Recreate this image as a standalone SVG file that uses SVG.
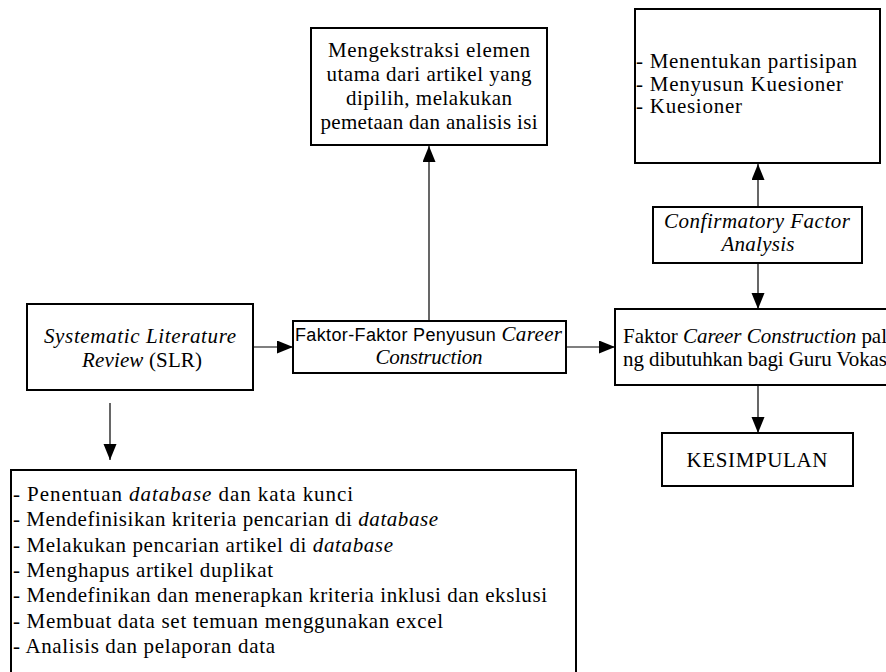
<svg xmlns="http://www.w3.org/2000/svg" width="886" height="672" viewBox="0 0 886 672">
<style>
.box{fill:#fff;stroke:#000;stroke-width:2}
.t{font-family:'Liberation Serif','Times New Roman',serif;font-size:21px;fill:#000}
.s{font-family:'Liberation Sans',Arial,sans-serif;font-size:18px;fill:#000}
.i{font-style:italic}
.c{text-anchor:middle}
.ln{stroke:#000;stroke-width:1.2;fill:none}
</style>
<defs>
<marker id="ah" markerUnits="userSpaceOnUse" markerWidth="17" markerHeight="14" refX="16" refY="6.5" orient="auto">
<path d="M0,0 L16,6.5 L0,13 Z" fill="#000"/>
</marker>
</defs>
<rect width="886" height="672" fill="#fff"/>
<g id="connectors">
<line class="ln" x1="253" y1="347" x2="293" y2="347" marker-end="url(#ah)"/>
<line class="ln" x1="566" y1="347" x2="615" y2="347" marker-end="url(#ah)"/>
<line class="ln" x1="429" y1="321" x2="429" y2="146" marker-end="url(#ah)"/>
<line class="ln" x1="110" y1="403" x2="110" y2="460" marker-end="url(#ah)"/>
<line class="ln" x1="758" y1="207" x2="758" y2="164" marker-end="url(#ah)"/>
<line class="ln" x1="758" y1="263" x2="758" y2="309" marker-end="url(#ah)"/>
<line class="ln" x1="758" y1="385" x2="758" y2="433" marker-end="url(#ah)"/>
</g>
<g id="ekstraksi">
<rect class="box" x="311" y="28" width="236" height="117"/>
<text class="t c" x="429" y="57" textLength="202">Mengekstraksi elemen</text>
<text class="t c" x="429" y="81" textLength="205">utama dari artikel yang</text>
<text class="t c" x="429" y="105" textLength="166">dipilih, melakukan</text>
<text class="t c" x="429" y="129" textLength="217">pemetaan dan analisis isi</text>
</g>
<g id="partisipan">
<rect class="box" x="635" y="9" width="245" height="154"/>
<text class="t" x="636" y="68" textLength="221">- Menentukan partisipan</text>
<text class="t" x="636" y="91" textLength="207">- Menyusun Kuesioner</text>
<text class="t" x="636" y="113" textLength="106">- Kuesioner</text>
</g>
<g id="cfa">
<rect class="box" x="653" y="207" width="209" height="56"/>
<text class="t c i" x="757" y="228" textLength="186">Confirmatory Factor</text>
<text class="t c i" x="758" y="251" textLength="73">Analysis</text>
</g>
<g id="slr">
<rect class="box" x="27" y="304" width="226" height="86"/>
<text class="t c" x="140" y="343" textLength="192"><tspan class="i">Systematic Literature</tspan></text>
<text class="t c" x="142" y="367" textLength="120"><tspan class="i">Review</tspan> (SLR)</text>
</g>
<g id="faktor">
<rect class="box" x="293" y="321" width="273" height="52"/>
<text x="295" y="341" textLength="267"><tspan class="s">Faktor-Faktor Penyusun </tspan><tspan class="t i">Career</tspan></text>
<text class="t c i" x="429" y="364" textLength="107">Construction</text>
</g>
<g id="hasil">
<rect class="box" x="615" y="309" width="290" height="76"/>
<text class="t" x="623" y="343" textLength="264">Faktor <tspan class="i">Career Construction</tspan> pal</text>
<text class="t" x="623" y="366" textLength="264">ng dibutuhkan bagi Guru Vokas</text>
</g>
<g id="kesimpulan">
<rect class="box" x="662" y="433" width="191" height="53"/>
<text class="t c" x="757" y="467" textLength="141">KESIMPULAN</text>
</g>
<g id="langkah">
<rect class="box" x="11" y="470" width="565" height="215"/>
<text class="t" x="13" y="501" textLength="340">- Penentuan <tspan class="i">database</tspan> dan kata kunci</text>
<text class="t" x="13" y="526" textLength="425">- Mendefinisikan kriteria pencarian di <tspan class="i">database</tspan></text>
<text class="t" x="13" y="552" textLength="380">- Melakukan pencarian artikel di <tspan class="i">database</tspan></text>
<text class="t" x="13" y="577" textLength="260">- Menghapus artikel duplikat</text>
<text class="t" x="13" y="602" textLength="534">- Mendefinikan dan menerapkan kriteria inklusi dan ekslusi</text>
<text class="t" x="13" y="628" textLength="430">- Membuat data set temuan menggunakan excel</text>
<text class="t" x="13" y="653" textLength="262">- Analisis dan pelaporan data</text>
</g>
</svg>
